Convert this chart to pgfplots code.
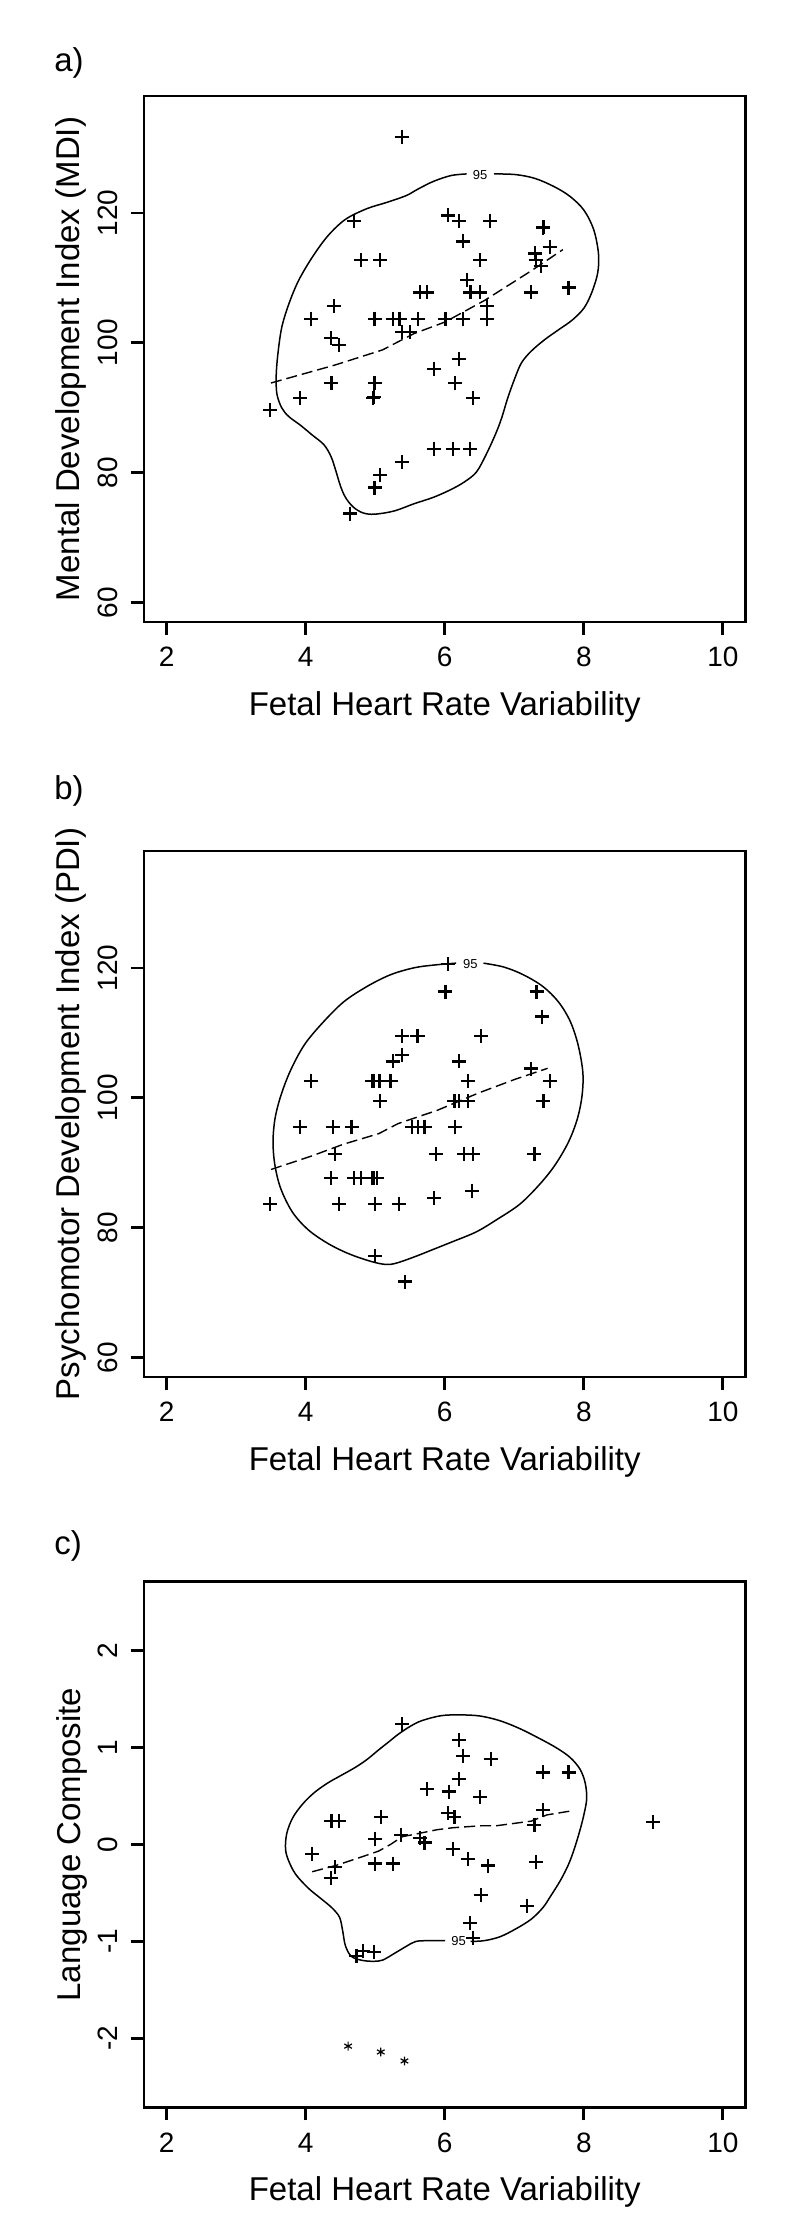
\documentclass[border=0pt]{standalone}
\usepackage{fontspec}
\setmainfont{Liberation Sans}
\usepackage{pgfplots}
\usepackage{graphicx}
\pgfplotsset{compat=1.18}
\newcommand{\rl}[1]{\rotatebox{90}{#1}}
\begin{document}
\begin{tikzpicture}
\useasboundingbox (0,0) rectangle (400pt,1112pt);
\pgfplotsset{
  panel/.style={
    scale only axis, width=300.75pt, height=263pt,
    anchor=south west,
    xmin=1.674, xmax=10.326,
    axis line style={line width=1.35pt},
    every tick/.style={line width=1.35pt, black},
    tick align=outside, major tick length=6.5pt,
    tick pos=left,
    xtick={2,4,6,8,10}, xticklabels={2,4,6,8,10},
    xticklabel style={anchor=base, inner sep=0pt, yshift=-16pt, font=\fontsize{14pt}{16pt}\selectfont},
    yticklabel style={anchor=east, inner sep=0pt, xshift=-6.5pt, font=\fontsize{14pt}{16pt}\selectfont},
    every axis x label/.style={at={(axis description cs:0.5,-0.177)}, anchor=base, font=\fontsize{16.5pt}{19pt}\selectfont},
    every axis y label/.style={at={(axis description cs:-0.1064,0.5)}, rotate=90, anchor=base, font=\fontsize{16.5pt}{19pt}\selectfont},
    xlabel={Fetal Heart Rate Variability},
  },
  pts/.style={only marks, mark=+, mark size=3.5pt, mark options={line width=1.1pt}, black},
  fit/.style={black, line width=0.7pt, dash pattern=on 5.5pt off 2.5pt, no marks},
  cont/.style={black, line width=0.75pt, smooth, tension=0.55, no marks},
}
\tikzset{lab/.style={anchor=base west, inner sep=0pt, font=\fontsize{16.5pt}{19pt}\selectfont}}
\node[lab] at (27pt,1076.25pt) {a)};
\node[lab] at (27pt,712pt) {b)};
\node[lab] at (27pt,334.5pt) {c)};

% ---------------- a) MDI ----------------
\begin{axis}[panel, at={(72pt,801pt)}, ymin=57, ymax=138,
  ytick={60,80,100,120}, yticklabels={\rl{60},\rl{80},\rl{100},\rl{120}},
  ylabel={Mental Development Index (MDI)}]
\addplot[cont] coordinates {
(6.709,126.0) (7.018,125.9) (7.30,125.3) (7.581,124.0) (7.806,122.5) (8.003,120.4)
(8.143,117.4) (8.211,113.75) (8.20,110.75) (8.115,107.75) (8.003,105.35) (7.834,103.5)
(7.637,102.0) (7.44,100.5) (7.243,98.7) (7.103,96.9) (7.007,94.5) (6.906,91.5)
(6.821,88.5) (6.737,86.1) (6.596,82.8) (6.456,80.1) (6.287,78.6) (6.09,77.4)
(5.837,76.2) (5.556,75.2) (5.274,74.1) (4.993,73.6) (4.824,73.8) (4.684,74.7)
(4.571,76.2) (4.498,78.0) (4.43,80.4) (4.363,82.5) (4.262,84.3) (4.093,85.8)
(3.924,87.3) (3.755,88.65) (3.654,90.0) (3.586,92.1) (3.575,94.8) (3.598,98.1)
(3.654,102.3) (3.755,105.9) (3.896,109.55) (4.093,113.15) (4.318,116.45) (4.571,119.0)
(4.88,120.65) (5.162,121.6) (5.443,122.65) (5.612,123.65) (5.837,124.85) (6.09,125.75)
(6.315,126.0)
};
\node[font=\fontsize{6.5pt}{7pt}\selectfont, inner sep=0pt] at (axis cs:6.51,125.9) {95};
\addplot[fit] coordinates {
(3.50,93.8) (4.43,96.6) (5.105,98.9) (5.555,101.4) (6.005,103.2) (6.57,106.5) (7.24,111.05) (7.70,114.35)
};
\addplot[pts] coordinates {
(5.38,131.7) (4.70,118.8) (6.05,119.6) (6.20,118.8) (6.65,118.8) (7.41,117.7) (7.42,117.8)
(6.26,115.6) (7.51,114.7) (7.30,113.75) (7.31,112.7) (7.38,111.8) (4.79,112.7) (5.07,112.7)
(6.51,112.7) (6.32,109.7) (6.37,107.75) (6.51,107.75) (5.64,107.75) (5.74,107.75) (7.24,107.75)
(7.78,108.5) (4.41,105.6) (6.61,105.6) (4.08,103.7) (4.99,103.7) (5.26,103.7) (5.35,103.7)
(5.62,103.7) (6.01,103.7) (6.26,103.7) (6.61,103.7) (5.39,101.6) (5.50,101.6) (4.36,100.7)
(4.48,99.6) (6.20,97.5) (5.85,95.9) (4.37,93.8) (4.99,93.8) (6.15,93.8) (3.92,91.5)
(4.97,91.5) (4.98,91.6) (6.41,91.5) (3.49,89.6) (5.84,83.7) (6.12,83.7) (6.36,83.7)
(5.38,81.6) (5.07,79.6) (4.99,77.7) (4.64,73.7)
};
\end{axis}

% ---------------- b) PDI ----------------
\begin{axis}[panel, at={(72pt,423.5pt)}, ymin=57, ymax=138,
  ytick={60,80,100,120}, yticklabels={\rl{60},\rl{80},\rl{100},\rl{120}},
  ylabel={Psychomotor Development Index (PDI)}]
\addplot[cont] coordinates {
(6.557,120.73) (6.85,120.13) (7.131,118.94) (7.412,117.13) (7.637,114.74) (7.806,111.74)
(7.918,108.14) (7.986,103.94) (7.975,100.35) (7.907,96.75) (7.778,93.15) (7.581,89.56)
(7.356,86.56) (7.075,83.57) (6.737,81.16) (6.456,79.36) (6.118,77.86) (5.837,76.66)
(5.556,75.47) (5.274,74.45) (5.105,74.39) (4.88,74.99) (4.599,76.07) (4.318,77.57)
(4.037,79.66) (3.811,82.36) (3.643,85.96) (3.558,89.56) (3.53,93.15) (3.558,96.75)
(3.643,100.35) (3.783,104.24) (3.98,108.14) (4.234,111.44) (4.543,114.74) (4.88,117.13)
(5.218,118.94) (5.556,120.01) (5.837,120.43) (6.163,120.73)
};
\node[font=\fontsize{6.5pt}{7pt}\selectfont, inner sep=0pt] at (axis cs:6.37,120.55) {95};
\addplot[fit] coordinates {
(3.502,88.96) (4.093,91.06) (4.543,92.85) (5.05,94.47) (5.33,96.03) (5.893,98.07)
(6.40,100.35) (6.51,100.83) (7.018,102.87) (7.48,104.54)
};
\addplot[pts] coordinates {
(6.05,120.6) (6.01,116.35) (7.32,116.35) (7.40,112.5) (5.38,109.5) (5.60,109.5) (5.62,109.5)
(6.52,109.5) (5.38,106.6) (5.26,105.6) (6.20,105.6) (7.24,104.5) (4.08,102.55) (4.96,102.55)
(4.98,102.55) (5.06,102.55) (5.22,102.55) (6.33,102.55) (7.51,102.55) (5.07,99.45) (6.14,99.45)
(6.21,99.45) (6.34,99.45) (7.41,99.45) (7.42,99.5) (3.92,95.55) (4.39,95.55) (4.66,95.55)
(5.53,95.55) (5.61,95.55) (5.71,95.55) (6.15,95.55) (4.42,91.35) (5.87,91.35) (6.28,91.35)
(6.41,91.35) (7.29,91.35) (4.36,87.6) (4.70,87.6) (4.80,87.6) (4.96,87.6) (4.98,87.6)
(5.03,87.6) (3.49,83.7) (4.48,83.7) (5.00,83.7) (5.34,83.7) (5.85,84.6) (6.39,85.7)
(5.00,75.6) (5.43,71.7)
};
\end{axis}

% ---------------- c) Language ----------------
\begin{axis}[panel, at={(72pt,58.25pt)}, ymin=-2.713, ymax=2.713,
  ytick={-2,-1,0,1,2}, yticklabels={\rl{-2},\rl{-1},\rl{0},\rl{1},\rl{2}},
  ylabel={Language Composite}]
\addplot[cont] coordinates {
(6.371,-1.0) (6.568,-0.992) (6.793,-0.952) (7.018,-0.872) (7.243,-0.771) (7.412,-0.651)
(7.525,-0.530) (7.665,-0.369) (7.778,-0.209) (7.862,-0.048) (7.947,0.153) (8.003,0.313)
(8.042,0.474) (8.02,0.635) (7.947,0.775) (7.806,0.896) (7.609,0.996) (7.356,1.096)
(7.075,1.197) (6.793,1.277) (6.512,1.325) (6.231,1.337) (5.949,1.329) (5.668,1.277)
(5.499,1.217) (5.331,1.137) (5.19,1.056) (5.049,0.976) (4.88,0.876) (4.712,0.795)
(4.515,0.715) (4.318,0.635) (4.121,0.534) (3.952,0.414) (3.811,0.273) (3.727,0.112)
(3.71,-0.048) (3.755,-0.169) (3.857,-0.309) (4.037,-0.450) (4.205,-0.550) (4.374,-0.651)
(4.487,-0.751) (4.532,-0.892) (4.571,-1.044) (4.655,-1.153) (4.796,-1.193) (4.965,-1.205)
(5.105,-1.193) (5.274,-1.124) (5.443,-1.052) (5.584,-1.0) (5.781,-0.992) (6.006,-0.992)
};
\node[font=\fontsize{6.5pt}{7pt}\selectfont, inner sep=0pt] at (axis cs:6.20,-1.0) {95};
\addplot[fit] coordinates {
(4.093,-0.281) (4.43,-0.217) (4.768,-0.137) (5.049,-0.068) (5.218,0.0) (5.387,0.080)
(5.612,0.112) (5.893,0.153) (6.118,0.173) (6.512,0.193) (6.737,0.193) (7.243,0.241)
(7.468,0.305) (7.806,0.345)
};
\addplot[pts] coordinates {
(5.38,1.245) (6.20,1.076) (6.26,0.916) (6.66,0.884) (7.41,0.743) (7.78,0.743) (6.20,0.675)
(5.74,0.570) (6.06,0.546) (6.51,0.490) (7.41,0.353) (6.05,0.325) (6.14,0.285) (4.37,0.245)
(4.48,0.245) (5.08,0.285) (9.00,0.233) (7.29,0.205) (5.37,0.10) (5.00,0.06) (5.64,0.064)
(5.71,0.02) (4.09,-0.096) (6.12,-0.048) (6.33,-0.149) (7.31,-0.181) (5.00,-0.197) (5.26,-0.197)
(6.62,-0.217) (4.42,-0.229) (4.36,-0.349) (6.52,-0.522) (7.18,-0.631) (6.36,-0.811) (6.41,-0.964)
(4.82,-1.10) (4.98,-1.112) (4.73,-1.149)
};
\addplot[only marks, mark=asterisk, mark size=2.2pt, mark options={line width=0.6pt}, black] coordinates {
(4.61,-2.08) (5.08,-2.14) (5.42,-2.233)
};
\end{axis}
\end{tikzpicture}
\end{document}
